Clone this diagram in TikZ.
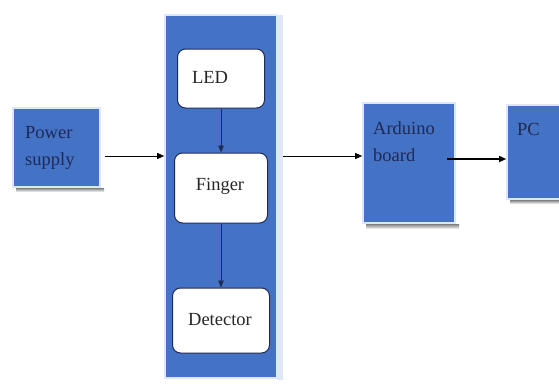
\documentclass[tikz,border=0pt]{standalone}
\usepackage{fontspec}
\setmainfont{Liberation Serif}
\usetikzlibrary{arrows.meta,calc}
\definecolor{boxblue}{HTML}{4472C4}
\definecolor{navy}{HTML}{1F2A55}
\definecolor{edge}{HTML}{DDE7F5}
\definecolor{shade}{HTML}{9A9EA6}
\tikzset{
  bluebox/.style={rectangle,fill=boxblue,draw=edge,line width=1.6pt,inner sep=0pt,
    minimum width=#1},
  bluebox/.default=80pt,
  whitebox/.style={rectangle,rounded corners=8pt,fill=white,draw=navy,line width=1pt,inner sep=0pt},
  txt/.style={font=\fontsize{18.5}{27}\selectfont,inner sep=0pt,align=left},
  arr/.style={-{Triangle[length=7pt,width=6pt]},line width=0.9pt,black},
  iarr/.style={-{Triangle[length=7pt,width=5.5pt]},line width=0.9pt,navy},
}
\begin{document}
\begin{tikzpicture}[x=1pt,y=-1pt]
\useasboundingbox (0,0) rectangle (559,383);
\fill[white] (0,0) rectangle (559,383);
% shadows
\fill[shade] (16,188) rectangle (104,192);
\fill[shade] (366,224) rectangle (459,229);
\fill[shade] (510,200) rectangle (570,204);
\fill[edge] (277,15) rectangle (283,380);
% boxes
\node[bluebox=87pt,minimum height=79pt] (power) at (56.5,147.5) {};
\node[bluebox=112pt,minimum height=363pt] (col) at (221,196.5) {};
\node[bluebox=92pt,minimum height=120pt] (ard) at (409,163) {};
\node[bluebox=63pt,minimum height=94pt] (pc) at (538.5,152) {};
\node[whitebox,minimum width=87pt,minimum height=59pt] (led) at (221,78.5) {};
\node[whitebox,minimum width=93pt,minimum height=70pt] (finger) at (221,188) {};
\node[whitebox,minimum width=97pt,minimum height=65pt] (det) at (221,320.5) {};
% texts
\node[txt,text=navy,anchor=base west] (powert) at (25,165) {Power\\supply};
\node[txt,text=navy,anchor=base west] (ardt) at (373,161) {Arduino\\board};
\node[txt,text=navy,anchor=base west] (pct) at (517,135) {PC};
\node[txt,text=black!85,anchor=base] (ledt) at (210,83) {LED};
\node[txt,text=black!85,anchor=base] (fingert) at (220,190) {Finger};
\node[txt,text=black!85,anchor=base] (dett) at (220,325) {Detector};
% arrows
\coordinate (a1s) at (105,156);
\coordinate (a2s) at (283,156);
\coordinate (a3s) at (447,159);
\draw[arr] (a1s) -- (col.west |- a1s);
\draw[arr] (a2s) -- (ard.west |- a2s);
\draw[arr,line width=1.4pt] (a3s) -- (pc.west |- a3s);
\draw[iarr] (led.south) -- (finger.north);
\draw[iarr] (finger.south) -- (det.north);
\end{tikzpicture}
\end{document}
